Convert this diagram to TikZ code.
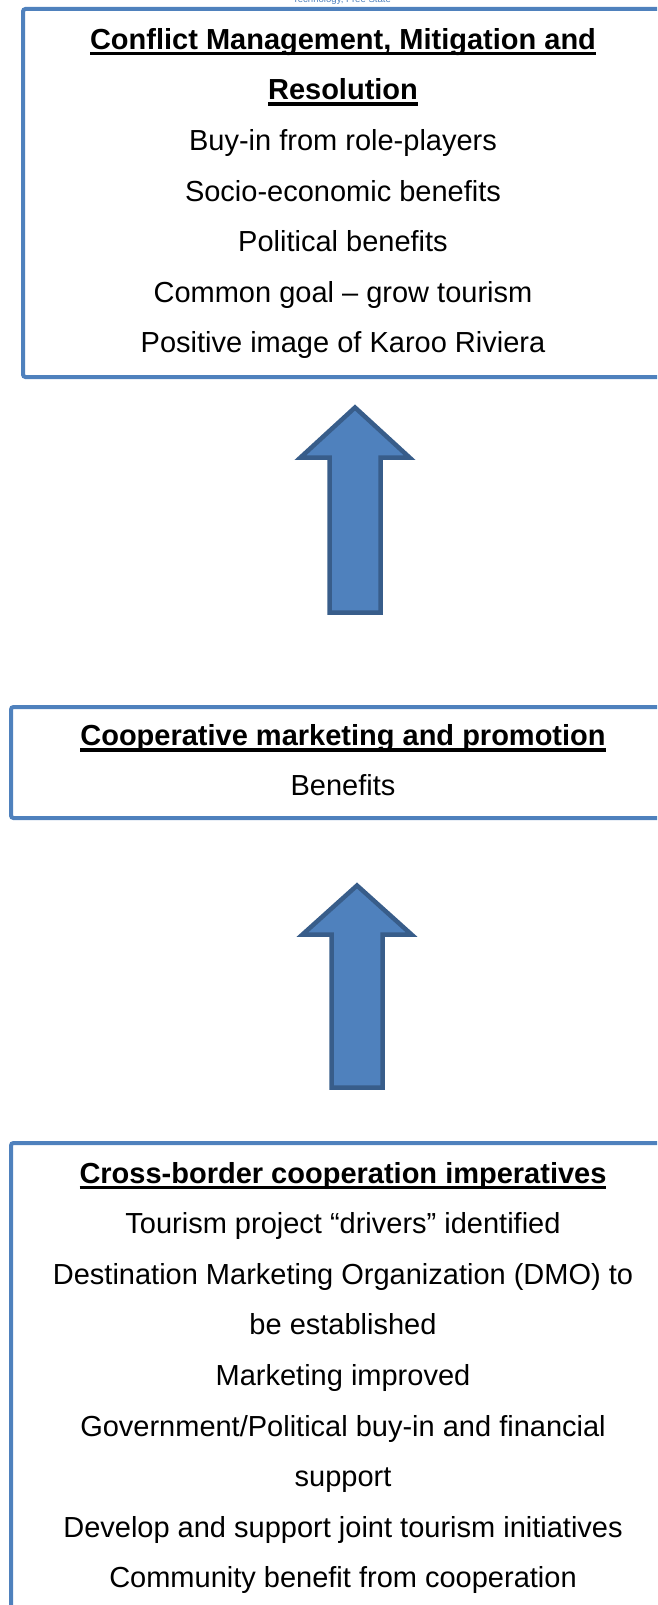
\documentclass[tikz,border=0pt]{standalone}
\usepackage{fontspec}
\setmainfont{Liberation Sans}
\usepackage{tikz}
\definecolor{boxblue}{HTML}{4F81BD}
\definecolor{arrowedge}{HTML}{385D8A}
\newsavebox\headbox
\newcommand\ls{\rule[-17pt]{0pt}{50pt}}
\newcommand\headtext[1]{\sbox\headbox{\bfseries #1}\rlap{\rule[-6.3pt]{\wd\headbox}{3.6pt}}\usebox\headbox}

\begin{document}
\begin{tikzpicture}[x=1pt, y=1pt,
  stage/.style={draw=boxblue, line width=4pt, rounded corners=2.5pt, align=center, inner sep=0pt,
    font=\fontsize{29}{50.6}\selectfont},
  blockarrow/.style={draw=arrowedge, fill=boxblue, line width=4.5pt, line join=miter}]
\useasboundingbox (0,0) rectangle (657,-1605);
\clip (0,0) rectangle (657,-1605);
\node[anchor=base, text=boxblue, font=\fontsize{9.6}{11}\selectfont] (src) at (342,-2.5) {Technology, Free State};
\node[stage, minimum width=640, minimum height=368] (conflict) at (343,-193) {%
  \ls\headtext{Conflict Management, Mitigation and}\\
  \ls\headtext{Resolution}\\
  \ls Buy-in from role-players\\
  \ls Socio-economic benefits\\
  \ls Political benefits\\
  \ls Common goal -- grow tourism\\
  \ls Positive image of Karoo Riviera};
\node[stage, minimum width=664, minimum height=111] (coop) at (343,-762.5) {%
  \ls\headtext{Cooperative marketing and promotion}\\
  \ls Benefits};
\node[stage, minimum width=664, minimum height=468.8] (cross) at (343,-1377.4) {%
  \ls\headtext{Cross-border cooperation imperatives}\\
  \ls Tourism project ``drivers'' identified\\
  \ls Destination Marketing Organization (DMO) to\\
  \ls be established\\
  \ls Marketing improved\\
  \ls Government/Political buy-in and financial\\
  \ls support\\
  \ls Develop and support joint tourism initiatives\\
  \ls Community benefit from cooperation};
% block arrows, drawn from the foot of the shaft
\coordinate (foot1) at (355,-612.5);
\coordinate (foot2) at (357,-1087.5);
\draw[blockarrow] (foot1) ++(-25.5,0) -- ++(0,155) -- ++(-29,0) -- ++(54.5,50) -- ++(54.5,-50) -- ++(-29,0) -- ++(0,-155) -- cycle;
\draw[blockarrow] (foot2) ++(-25.5,0) -- ++(0,153) -- ++(-29,0) -- ++(54.5,49) -- ++(54.5,-49) -- ++(-29,0) -- ++(0,-153) -- cycle;
\end{tikzpicture}
\end{document}
